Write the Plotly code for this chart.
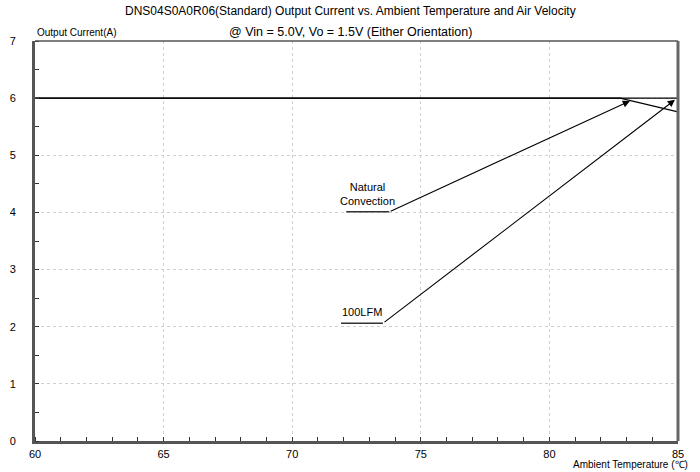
import plotly.graph_objects as go

# Data
nc_temp = [60, 82.75, 85]
nc_curr = [6.0, 6.0, 5.76]
lfm_temp = [60, 85]
lfm_curr = [6.0, 6.0]

x_ticks = [60, 65, 70, 75, 80, 85]
y_ticks = [0, 1, 2, 3, 4, 5, 6, 7]

# label annotations: underline start x, underline end x (= arrow tail), y, arrow head x, arrow head y
labels = ["Natural<br>Convection", "100LFM"]
ul_x0 = [72.1, 71.9]
ul_x1 = [73.77, 73.53]
ul_y = [4.01, 2.06]
head_x = [83.13, 84.88]
head_y = [5.95, 5.97]

title1 = "DNS04S0A0R06(Standard) Output Current vs. Ambient Temperature and Air Velocity"
title2 = "@ Vin = 5.0V, Vo = 1.5V (Either Orientation)"

FONT = "Liberation Sans, Arial, sans-serif"

fig = go.Figure()
fig.add_trace(go.Scatter(x=nc_temp, y=nc_curr, mode="lines",
                         line=dict(color="black", width=1.3), showlegend=False))
fig.add_trace(go.Scatter(x=lfm_temp, y=lfm_curr, mode="lines",
                         line=dict(color="black", width=1.3), showlegend=False))

annotations = []
shapes = []
for i in range(len(labels)):
    shapes.append(dict(type="line", xref="x", yref="y", x0=ul_x0[i], x1=ul_x1[i],
                       y0=ul_y[i], y1=ul_y[i], line=dict(color="#333", width=1.5)))
    annotations.append(dict(x=head_x[i], y=head_y[i], ax=ul_x1[i], ay=ul_y[i],
                            xref="x", yref="y", axref="x", ayref="y",
                            text="", showarrow=True, arrowhead=2, arrowsize=1.3,
                            arrowwidth=1.1, arrowcolor="black"))
    annotations.append(dict(x=(ul_x0[i] + ul_x1[i]) / 2, y=ul_y[i], xref="x", yref="y",
                            text=labels[i], showarrow=False, yanchor="bottom", yshift=3,
                            font=dict(size=11, color="black", family=FONT)))

annotations += [
    dict(text=title1, x=0.49, y=1, xref="paper", yref="paper", yanchor="bottom", yshift=21,
         showarrow=False, font=dict(size=12, color="black", family=FONT)),
    dict(text="Output Current(A)", x=0, xanchor="left", y=1, xref="paper", yref="paper",
         yanchor="bottom", yshift=1, showarrow=False,
         font=dict(size=10, color="black", family=FONT)),
    dict(text=title2, x=0.49, y=1, xref="paper", yref="paper", yanchor="bottom", yshift=0,
         showarrow=False, font=dict(size=12.5, color="black", family=FONT)),
    dict(text="Ambient Temperature (℃)", x=1, xanchor="right", xshift=12, y=0, yref="paper",
         xref="paper", yanchor="bottom", yshift=-31, showarrow=False,
         font=dict(size=10, color="black", family=FONT)),
]

# top border
shapes.append(dict(type="line", xref="paper", yref="paper", x0=0, x1=1, y0=1, y1=1,
                   line=dict(color="#555", width=1.5)))
# right border
shapes.append(dict(type="line", xref="paper", yref="paper", x0=1, x1=1, y0=0, y1=1,
                   line=dict(color="#666", width=3)))

fig.update_layout(
    width=700, height=472,
    margin=dict(l=35, r=22, t=41, b=31),
    paper_bgcolor="white", plot_bgcolor="white",
    font=dict(family=FONT, size=11, color="black"),
    annotations=annotations, shapes=shapes,
    xaxis=dict(range=[60, 85], tickvals=x_ticks, ticks="", showline=True,
               linecolor="#555", linewidth=3, zeroline=False, automargin=False,
               showgrid=True, gridcolor="#d0d0d0", griddash="dot", gridwidth=1,
               minor=dict(dtick=1, ticks="inside", ticklen=4, tickcolor="#333", showgrid=False),
               tickfont=dict(size=11), ticklabelstandoff=1),
    yaxis=dict(range=[0, 7], tickvals=y_ticks, ticks="", showline=True,
               linecolor="#555", linewidth=3, zeroline=False, automargin=False,
               showgrid=True, gridcolor="#d0d0d0", griddash="dot", gridwidth=1,
               minor=dict(dtick=0.5, ticks="inside", ticklen=4, tickcolor="#333", showgrid=False),
               tickfont=dict(size=11), ticklabelstandoff=14),
)

fig.write_html("out.html", config={"displayModeBar": False},
               post_script="document.body.style.margin='0';document.body.style.padding='0';")
